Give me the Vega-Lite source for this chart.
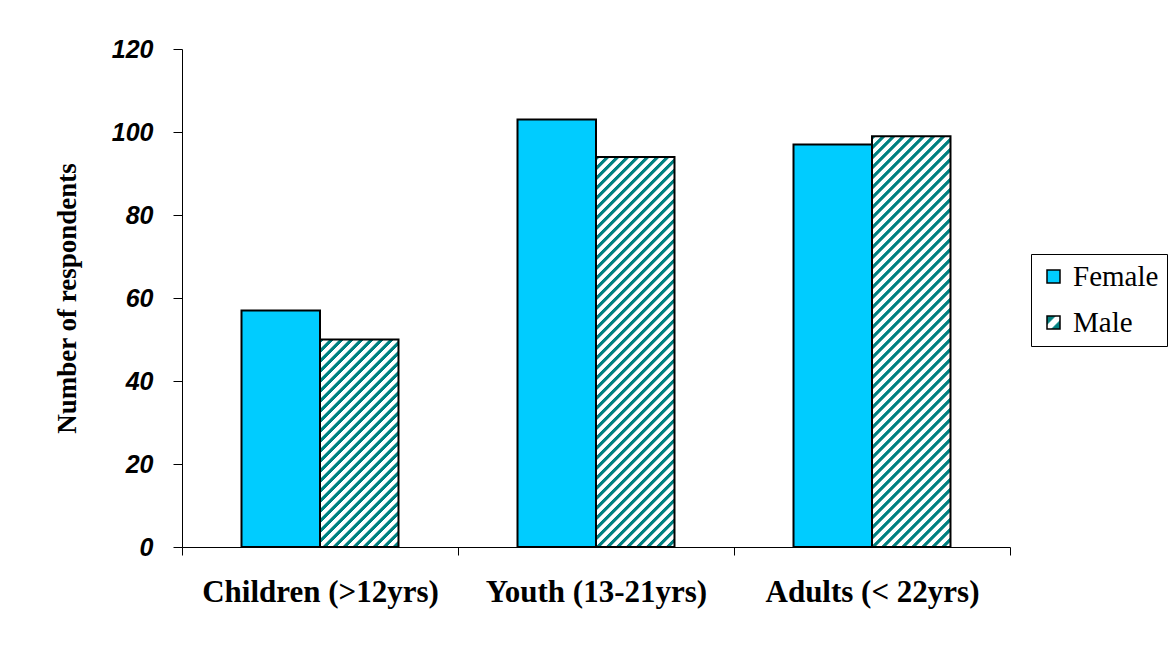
{
  "$schema": "https://vega.github.io/schema/vega-lite/v6.json",
  "width": 828,
  "height": 498,
  "autosize": {"type": "none"},
  "padding": {"left": 182, "top": 49, "right": 165, "bottom": 100},
  "background": "white",
  "config": {"view": {"stroke": null}},
  "params": [
    {"name": "hs", "value": [
      {"offset":0,"color":"teal"},{"offset":0.007,"color":"teal"},{"offset":0.009,"color":"#fff"},{"offset":0.018,"color":"#fff"},
      {"offset":0.02,"color":"teal"},{"offset":0.027,"color":"teal"},{"offset":0.029,"color":"#fff"},{"offset":0.038,"color":"#fff"},
      {"offset":0.04,"color":"teal"},{"offset":0.047,"color":"teal"},{"offset":0.049,"color":"#fff"},{"offset":0.058,"color":"#fff"},
      {"offset":0.06,"color":"teal"},{"offset":0.067,"color":"teal"},{"offset":0.069,"color":"#fff"},{"offset":0.078,"color":"#fff"},
      {"offset":0.08,"color":"teal"},{"offset":0.087,"color":"teal"},{"offset":0.089,"color":"#fff"},{"offset":0.098,"color":"#fff"},
      {"offset":0.1,"color":"teal"},{"offset":0.107,"color":"teal"},{"offset":0.109,"color":"#fff"},{"offset":0.118,"color":"#fff"},
      {"offset":0.12,"color":"teal"},{"offset":0.127,"color":"teal"},{"offset":0.129,"color":"#fff"},{"offset":0.138,"color":"#fff"},
      {"offset":0.14,"color":"teal"},{"offset":0.147,"color":"teal"},{"offset":0.149,"color":"#fff"},{"offset":0.158,"color":"#fff"},
      {"offset":0.16,"color":"teal"},{"offset":0.167,"color":"teal"},{"offset":0.169,"color":"#fff"},{"offset":0.178,"color":"#fff"},
      {"offset":0.18,"color":"teal"},{"offset":0.187,"color":"teal"},{"offset":0.189,"color":"#fff"},{"offset":0.198,"color":"#fff"},
      {"offset":0.2,"color":"teal"},{"offset":0.207,"color":"teal"},{"offset":0.209,"color":"#fff"},{"offset":0.218,"color":"#fff"},
      {"offset":0.22,"color":"teal"},{"offset":0.227,"color":"teal"},{"offset":0.229,"color":"#fff"},{"offset":0.238,"color":"#fff"},
      {"offset":0.24,"color":"teal"},{"offset":0.247,"color":"teal"},{"offset":0.249,"color":"#fff"},{"offset":0.258,"color":"#fff"},
      {"offset":0.26,"color":"teal"},{"offset":0.267,"color":"teal"},{"offset":0.269,"color":"#fff"},{"offset":0.278,"color":"#fff"},
      {"offset":0.28,"color":"teal"},{"offset":0.287,"color":"teal"},{"offset":0.289,"color":"#fff"},{"offset":0.298,"color":"#fff"},
      {"offset":0.3,"color":"teal"},{"offset":0.307,"color":"teal"},{"offset":0.309,"color":"#fff"},{"offset":0.318,"color":"#fff"},
      {"offset":0.32,"color":"teal"},{"offset":0.327,"color":"teal"},{"offset":0.329,"color":"#fff"},{"offset":0.338,"color":"#fff"},
      {"offset":0.34,"color":"teal"},{"offset":0.347,"color":"teal"},{"offset":0.349,"color":"#fff"},{"offset":0.358,"color":"#fff"},
      {"offset":0.36,"color":"teal"},{"offset":0.367,"color":"teal"},{"offset":0.369,"color":"#fff"},{"offset":0.378,"color":"#fff"},
      {"offset":0.38,"color":"teal"},{"offset":0.387,"color":"teal"},{"offset":0.389,"color":"#fff"},{"offset":0.398,"color":"#fff"},
      {"offset":0.4,"color":"teal"},{"offset":0.407,"color":"teal"},{"offset":0.409,"color":"#fff"},{"offset":0.418,"color":"#fff"},
      {"offset":0.42,"color":"teal"},{"offset":0.427,"color":"teal"},{"offset":0.429,"color":"#fff"},{"offset":0.438,"color":"#fff"},
      {"offset":0.44,"color":"teal"},{"offset":0.447,"color":"teal"},{"offset":0.449,"color":"#fff"},{"offset":0.458,"color":"#fff"},
      {"offset":0.46,"color":"teal"},{"offset":0.467,"color":"teal"},{"offset":0.469,"color":"#fff"},{"offset":0.478,"color":"#fff"},
      {"offset":0.48,"color":"teal"},{"offset":0.487,"color":"teal"},{"offset":0.489,"color":"#fff"},{"offset":0.498,"color":"#fff"},
      {"offset":0.5,"color":"teal"},{"offset":0.507,"color":"teal"},{"offset":0.509,"color":"#fff"},{"offset":0.518,"color":"#fff"},
      {"offset":0.52,"color":"teal"},{"offset":0.527,"color":"teal"},{"offset":0.529,"color":"#fff"},{"offset":0.538,"color":"#fff"},
      {"offset":0.54,"color":"teal"},{"offset":0.547,"color":"teal"},{"offset":0.549,"color":"#fff"},{"offset":0.558,"color":"#fff"},
      {"offset":0.56,"color":"teal"},{"offset":0.567,"color":"teal"},{"offset":0.569,"color":"#fff"},{"offset":0.578,"color":"#fff"},
      {"offset":0.58,"color":"teal"},{"offset":0.587,"color":"teal"},{"offset":0.589,"color":"#fff"},{"offset":0.598,"color":"#fff"},
      {"offset":0.6,"color":"teal"},{"offset":0.607,"color":"teal"},{"offset":0.609,"color":"#fff"},{"offset":0.618,"color":"#fff"},
      {"offset":0.62,"color":"teal"},{"offset":0.627,"color":"teal"},{"offset":0.629,"color":"#fff"},{"offset":0.638,"color":"#fff"},
      {"offset":0.64,"color":"teal"},{"offset":0.647,"color":"teal"},{"offset":0.649,"color":"#fff"},{"offset":0.658,"color":"#fff"},
      {"offset":0.66,"color":"teal"},{"offset":0.667,"color":"teal"},{"offset":0.669,"color":"#fff"},{"offset":0.678,"color":"#fff"},
      {"offset":0.68,"color":"teal"},{"offset":0.687,"color":"teal"},{"offset":0.689,"color":"#fff"},{"offset":0.698,"color":"#fff"},
      {"offset":0.7,"color":"teal"},{"offset":0.707,"color":"teal"},{"offset":0.709,"color":"#fff"},{"offset":0.718,"color":"#fff"},
      {"offset":0.72,"color":"teal"},{"offset":0.727,"color":"teal"},{"offset":0.729,"color":"#fff"},{"offset":0.738,"color":"#fff"},
      {"offset":0.74,"color":"teal"},{"offset":0.747,"color":"teal"},{"offset":0.749,"color":"#fff"},{"offset":0.758,"color":"#fff"},
      {"offset":0.76,"color":"teal"},{"offset":0.767,"color":"teal"},{"offset":0.769,"color":"#fff"},{"offset":0.778,"color":"#fff"},
      {"offset":0.78,"color":"teal"},{"offset":0.787,"color":"teal"},{"offset":0.789,"color":"#fff"},{"offset":0.798,"color":"#fff"},
      {"offset":0.8,"color":"teal"},{"offset":0.807,"color":"teal"},{"offset":0.809,"color":"#fff"},{"offset":0.818,"color":"#fff"},
      {"offset":0.82,"color":"teal"},{"offset":0.827,"color":"teal"},{"offset":0.829,"color":"#fff"},{"offset":0.838,"color":"#fff"},
      {"offset":0.84,"color":"teal"},{"offset":0.847,"color":"teal"},{"offset":0.849,"color":"#fff"},{"offset":0.858,"color":"#fff"},
      {"offset":0.86,"color":"teal"},{"offset":0.867,"color":"teal"},{"offset":0.869,"color":"#fff"},{"offset":0.878,"color":"#fff"},
      {"offset":0.88,"color":"teal"},{"offset":0.887,"color":"teal"},{"offset":0.889,"color":"#fff"},{"offset":0.898,"color":"#fff"},
      {"offset":0.9,"color":"teal"},{"offset":0.907,"color":"teal"},{"offset":0.909,"color":"#fff"},{"offset":0.918,"color":"#fff"},
      {"offset":0.92,"color":"teal"},{"offset":0.927,"color":"teal"},{"offset":0.929,"color":"#fff"},{"offset":0.938,"color":"#fff"},
      {"offset":0.94,"color":"teal"},{"offset":0.947,"color":"teal"},{"offset":0.949,"color":"#fff"},{"offset":0.958,"color":"#fff"},
      {"offset":0.96,"color":"teal"},{"offset":0.967,"color":"teal"},{"offset":0.969,"color":"#fff"},{"offset":0.978,"color":"#fff"},
      {"offset":0.98,"color":"teal"},{"offset":0.987,"color":"teal"},{"offset":0.989,"color":"#fff"},{"offset":0.998,"color":"#fff"},
      {"offset":1,"color":"teal"}
    ]}
  ],
  "data": {
    "values": [
      {"group": "Children (>12yrs)", "sex": "Female", "value": 57},
      {"group": "Children (>12yrs)", "sex": "Male", "value": 50},
      {"group": "Youth (13-21yrs)", "sex": "Female", "value": 103},
      {"group": "Youth (13-21yrs)", "sex": "Male", "value": 94},
      {"group": "Adults (< 22yrs)", "sex": "Female", "value": 97},
      {"group": "Adults (< 22yrs)", "sex": "Male", "value": 99}
    ]
  },
  "mark": {"type": "bar", "stroke": "black", "strokeWidth": 2},
  "encoding": {
    "x": {
      "field": "group", "type": "nominal", "sort": null,
      "scale": {"paddingInner": 0, "paddingOuter": 0},
      "axis": {"title": null, "labelAngle": 0, "labelFont": "Liberation Serif", "labelFontWeight": "bold", "labelFontSize": 31, "labelColor": "black", "labelPadding": 22, "labelLimit": 0, "tickBand": "extent", "tickSize": 8, "tickColor": "black", "domainColor": "black", "grid": false}
    },
    "xOffset": {"field": "sex", "type": "nominal", "sort": ["Female", "Male"], "scale": {"paddingInner": 0, "paddingOuter": 0.758}},
    "y": {
      "field": "value", "type": "quantitative",
      "scale": {"domain": [0, 120], "nice": false},
      "axis": {"title": "Number of respondents", "titleFont": "Liberation Serif", "titleFontSize": 27, "titleFontWeight": "bold", "titleColor": "black", "titlePadding": 30, "values": [0, 20, 40, 60, 80, 100, 120], "labelFont": "Liberation Sans", "labelFontStyle": "italic", "labelFontWeight": "bold", "labelFontSize": 25, "labelColor": "black", "labelPadding": 20, "tickSize": 9, "tickColor": "black", "domainColor": "black", "grid": false}
    },
    "fill": {
      "field": "sex", "type": "nominal",
      "scale": {"domain": ["Female", "Male"], "range": ["#00ccff", {"expr": "{gradient: 'linear', x1: 0, y1: 0, x2: 1, y2: 1, stops: [{offset: 0, color: 'teal'}, {offset: 0.3, color: 'teal'}, {offset: 0.38, color: '#fff'}, {offset: 0.62, color: '#fff'}, {offset: 0.7, color: 'teal'}, {offset: 1, color: 'teal'}]}"}]},
      "condition": [
        {"test": "datum.group === 'Children (>12yrs)' && datum.sex === 'Male'", "value": {"expr": "{gradient: 'linear', x1: 0, y1: 0, x2: 0.79747, y2: 2.10795, stops: hs}"}},
        {"test": "datum.group === 'Youth (13-21yrs)' && datum.sex === 'Male'", "value": {"expr": "{gradient: 'linear', x1: 0, y1: 0, x2: 0.24788, y2: 1.23184, stops: hs}"}},
        {"test": "datum.group === 'Adults (< 22yrs)' && datum.sex === 'Male'", "value": {"expr": "{gradient: 'linear', x1: 0, y1: 0, x2: 0.22434, y2: 1.17413, stops: hs}"}}
      ],
      "legend": {
        "title": null, "orient": "none", "legendX": 849, "legendY": 205,
        "padding": 8, "strokeColor": "black", "fillColor": "white",
        "rowPadding": 16, "labelOffset": 5, "symbolType": "square", "symbolSize": 169,
        "symbolStrokeColor": "black", "symbolStrokeWidth": 1.5,
        "labelFont": "Liberation Serif", "labelFontSize": 29, "labelColor": "black"
      }
    }
  }
}
